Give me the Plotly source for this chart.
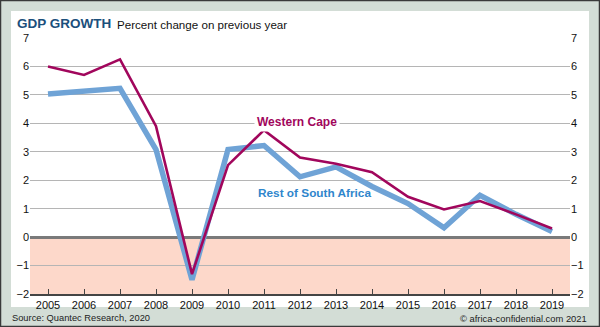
import plotly.graph_objects as go

years = list(range(2005, 2020))
western_cape = [6.0, 5.7, 6.25, 3.9, -1.3, 2.53, 3.76, 2.8, 2.58, 2.28, 1.42, 0.97, 1.27, 0.8, 0.3]
rest_of_sa = [5.03, 5.13, 5.23, 3.08, -1.5, 3.08, 3.22, 2.12, 2.47, 1.78, 1.18, 0.33, 1.47, 0.8, 0.2]
yticks = list(range(-2, 8))

W, H = 600, 327
L, R, T, B = 30, 30, 38, 33
pw, ph = W - L - R, H - T - B

def px(x):
    return (x - L) / pw

def py(y):
    return (H - B - y) / ph

FONT = "Liberation Sans, Arial, sans-serif"
fig = go.Figure()
fig.add_trace(go.Scatter(x=years, y=rest_of_sa, mode="lines",
                         line=dict(color="#6fa3d6", width=5.5), hoverinfo="skip"))
fig.add_trace(go.Scatter(x=years, y=western_cape, mode="lines",
                         line=dict(color="#a1065c", width=2.6), hoverinfo="skip"))
fig.add_trace(go.Scatter(x=[2005], y=[0], yaxis="y2", mode="markers",
                         marker=dict(opacity=0), hoverinfo="skip"))

shapes = [
    dict(type="rect", xref="paper", yref="paper", x0=px(0.5), x1=px(599.5), y0=py(326.5), y1=py(0.5),
         line=dict(color="#3a3a3a", width=1.5), fillcolor="#d3ddd6", layer="below"),
    dict(type="rect", xref="paper", yref="paper", x0=px(11), x1=px(589), y0=py(307), y1=py(11),
         line=dict(width=0), fillcolor="white", layer="below"),
    dict(type="rect", xref="x", yref="y", x0=2004.5, x1=2019.5, y0=-2, y1=0,
         line=dict(width=0), fillcolor="#fdd8ca", layer="below"),
]

annotations = [
    dict(xref="paper", yref="paper", x=px(15), y=py(23), xanchor="left", yanchor="middle",
         text="<b>GDP GROWTH</b>", showarrow=False,
         font=dict(family=FONT, size=13.5, color="#1b4f7c")),
    dict(xref="paper", yref="paper", x=px(115), y=py(24), xanchor="left", yanchor="middle",
         text="Percent change on previous year", showarrow=False,
         font=dict(family=FONT, size=11.6, color="#111")),
    dict(xref="paper", yref="paper", x=px(10), y=py(318), xanchor="left", yanchor="middle",
         text="Source: Quantec Research, 2020", showarrow=False,
         font=dict(family=FONT, size=9.3, color="#222")),
    dict(xref="paper", yref="paper", x=px(589), y=py(318), xanchor="right", yanchor="middle",
         text="© africa-confidential.com 2021", showarrow=False,
         font=dict(family=FONT, size=9.4, color="#222")),
    dict(xref="x", yref="y", x=2011.93, y=4.05, text="<b>Western Cape</b>", showarrow=False,
         bgcolor="white", borderpad=2,
         font=dict(family=FONT, size=12, color="#a1065c")),
    dict(xref="x", yref="y", x=2012.41, y=1.55, text="<b>Rest of South Africa</b>", showarrow=False,
         font=dict(family=FONT, size=11.8, color="#2f86cc")),
]

fig.update_layout(
    width=W, height=H,
    margin=dict(l=L, r=R, t=T, b=B, pad=0),
    paper_bgcolor="#d3ddd6",
    plot_bgcolor="rgba(0,0,0,0)",
    showlegend=False,
    shapes=shapes,
    annotations=annotations,
    font=dict(family=FONT, size=11, color="#111"),
    xaxis=dict(range=[2004.5, 2019.5], tickvals=years, ticks="inside", ticklen=5,
               tickcolor="#444", showgrid=False, showline=True, linecolor="#444",
               linewidth=1.5, zeroline=False, fixedrange=True,
               tickfont=dict(family=FONT, size=11, color="#111")),
    yaxis=dict(range=[-2, 7], tickvals=yticks, showgrid=True, gridcolor="#b5b5b5",
               gridwidth=1, zeroline=True, zerolinecolor="#7a7a7a", zerolinewidth=2.5,
               showline=False, ticks="", fixedrange=True,
               tickfont=dict(family=FONT, size=11, color="#111")),
    yaxis2=dict(range=[-2, 7], tickvals=yticks, overlaying="y", side="right",
                showgrid=False, zeroline=False, showline=False, ticks="", fixedrange=True,
                tickfont=dict(family=FONT, size=11, color="#111")),
)

fig.write_html("out.html")
